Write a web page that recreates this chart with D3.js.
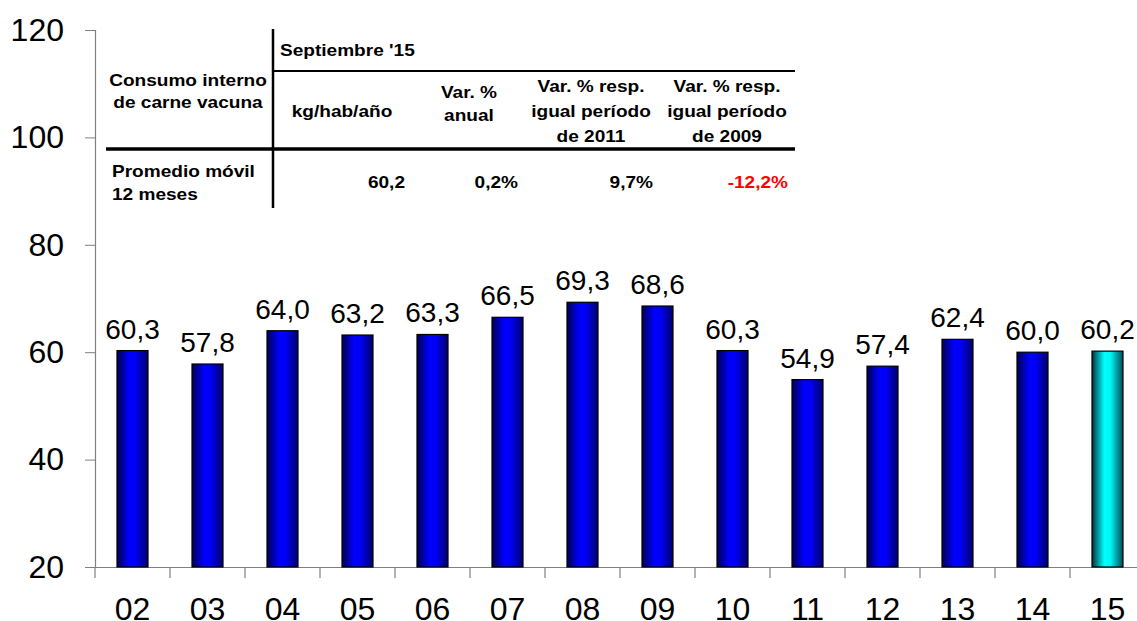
<!DOCTYPE html>
<html><head><meta charset="utf-8">
<script src="https://cdn.jsdelivr.net/npm/d3@7"></script>
<style>
html,body{margin:0;padding:0;background:#fff;overflow:hidden}
text{font-family:"Liberation Sans",Arial,sans-serif}
</style></head>
<body>
<script>
const years = ["02","03","04","05","06","07","08","09","10","11","12","13","14","15"];
const values = [60.3,57.8,64.0,63.2,63.3,66.5,69.3,68.6,60.3,54.9,57.4,62.4,60.0,60.2];
const yTicks = [20,40,60,80,100,120];
const tableTitle = "Septiembre '15";
const tableRowHead = ["Consumo interno","de carne vacuna"];
const tableCols = [["kg/hab/año"],["Var. %","anual"],["Var. % resp.","igual período","de 2011"],["Var. % resp.","igual período","de 2009"]];
const rowLabel = ["Promedio móvil","12 meses"];
const rowValues = ["60,2","0,2%","9,7%","-12,2%"];

const W=1137,H=621;
const svg=d3.select("body").append("svg").attr("width",W).attr("height",H);
const defs=svg.append("defs");
function grad(id,stops){const g=defs.append("linearGradient").attr("id",id).attr("x1","0").attr("x2","1").attr("y1","0").attr("y2","0");
 stops.forEach(s=>g.append("stop").attr("offset",s[0]).attr("stop-color",s[1]));}
grad("gBlue",[["0%","#000050"],["40%","#0000ff"],["60%","#0000f5"],["100%","#000068"]]);
grad("gCyan",[["0%","#003040"],["40%","#00ffff"],["60%","#00f5f5"],["100%","#004858"]]);

const x=d3.scaleBand().domain(years).range([95,1145]).padding(0);
const y=d3.scaleLinear().domain([20,120]).range([567,30]);
const loc=d3.formatLocale({decimal:",",thousands:".",grouping:[3],currency:["",""]});
const fmt=loc.format(".1f");

// y axis
const ya=svg.append("g").attr("transform","translate(95,0)")
 .call(d3.axisLeft(y).tickValues(yTicks).tickSize(10).tickPadding(21).tickFormat(d3.format("d")));
ya.select(".domain").attr("stroke","#808080").attr("stroke-width",1.2);
ya.selectAll(".tick line").attr("stroke","#808080");
ya.selectAll("text").attr("font-size",32).attr("fill","#000").attr("font-family","Liberation Sans, Arial");

// x axis
const xa=svg.append("g").attr("transform","translate(0,567)")
 .call(d3.axisBottom(x).tickSize(0).tickPadding(30));
xa.select(".domain").attr("stroke","#808080").attr("stroke-width",1.2);
xa.selectAll("text").attr("font-size",32).attr("fill","#000").attr("font-family","Liberation Sans, Arial");
// boundary ticks
svg.append("g").selectAll("line").data(years).join("line")
 .attr("x1",d=>x(d)).attr("x2",d=>x(d)).attr("y1",567).attr("y2",578)
 .attr("stroke","#808080").attr("stroke-width",1.2);

// bars
const bw=31;
svg.append("g").selectAll("rect").data(values).join("rect")
 .attr("x",(d,i)=>x(years[i])+x.bandwidth()/2-bw/2)
 .attr("width",bw)
 .attr("y",d=>y(d)).attr("height",d=>y(20)-y(d))
 .attr("fill",(d,i)=>i===values.length-1?"url(#gCyan)":"url(#gBlue)")
 .attr("stroke","#000").attr("stroke-width",1.2);

svg.append("g").selectAll("text").data(values).join("text")
 .attr("x",(d,i)=>x(years[i])+x.bandwidth()/2)
 .attr("y",d=>y(d)-12)
 .attr("text-anchor","middle").attr("font-size",28).text(d=>fmt(d));

// table
const SX=1.17;
const T=svg.append("g").attr("font-weight","bold").attr("font-size",16.3);
function tt(xp,yp,t,anchor,fill){
 return T.append("text").attr("transform",`translate(${xp},${yp}) scale(${SX},1)`)
  .attr("text-anchor",anchor||"start").attr("fill",fill||"#000").text(t);
}
T.append("line").attr("x1",273).attr("x2",273).attr("y1",29).attr("y2",208).attr("stroke","#000").attr("stroke-width",2.5);
T.append("line").attr("x1",273).attr("x2",795).attr("y1",71).attr("y2",71).attr("stroke","#000").attr("stroke-width",2);
T.append("line").attr("x1",106).attr("x2",795).attr("y1",149).attr("y2",149).attr("stroke","#000").attr("stroke-width",3.5);
tt(280,56,tableTitle);
tableRowHead.forEach((d,i)=>tt(188,86+i*22,d,"middle"));
const colX=[342,469,591,727];
const colBase=[[117],[98,121],[92,117,142],[92,117,142]];
tableCols.forEach((lines,c)=>{
 lines.forEach((t,i)=>tt(colX[c],colBase[c][i],t,"middle"));
});
rowLabel.forEach((d,i)=>tt(112,177+i*23,d));
const valX=[405,518,653,788];
rowValues.forEach((v,i)=>tt(valX[i],188,v,"end",v.startsWith("-")?"#ff0000":"#000"));
</script>
</body></html>
